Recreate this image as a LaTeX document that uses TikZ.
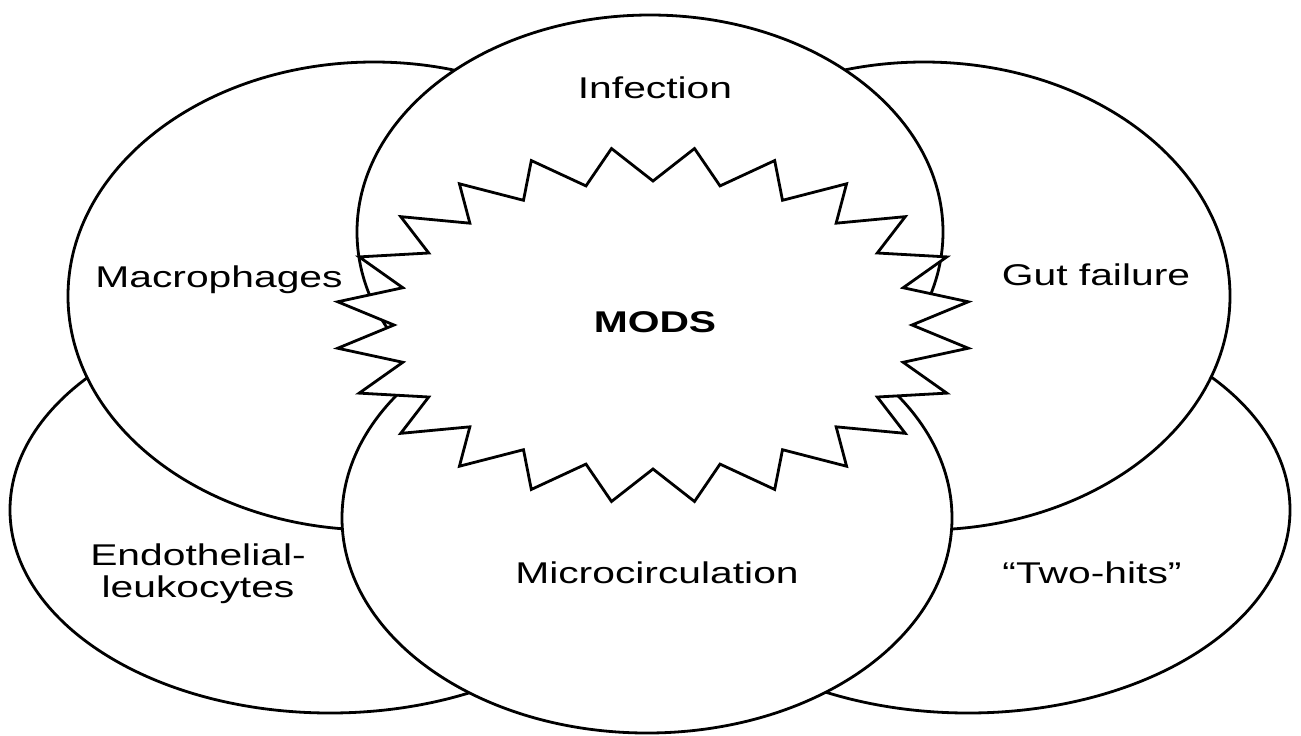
\documentclass[tikz,border=0pt]{standalone}
\usepackage{fontspec}
\setmainfont{Liberation Sans}[FakeStretch=1.36]

\begin{document}
\begin{tikzpicture}
      [x=0.5pt,y=-0.5pt,
       every node/.style={font=\fontsize{15}{16}\selectfont,align=center,anchor=base},
       blob/.style={draw,fill=white,line width=1.4pt}]
      \useasboundingbox (0,0) rectangle (1301,735);

      % outer ring, back to front
      \draw[blob] (330,510) ellipse [x radius=320, y radius=203];
      \draw[blob] (968,510) ellipse [x radius=322, y radius=203];
      \draw[blob] (374,296) ellipse [x radius=306, y radius=234];
      \draw[blob] (924,296) ellipse [x radius=306, y radius=234];
      \draw[blob] (650,232) ellipse [x radius=293, y radius=217];
      \draw[blob] (647,518) ellipse [x radius=305, y radius=215];

      % the star in the middle
      \begin{scope}[shift={(653,325)}]
        \draw[blob] (0:259 and 144)
          \foreach \k in {0,...,23} {-- (\k*15+7.5:318 and 178) -- (\k*15+15:259 and 144)} -- cycle;
      \end{scope}

      \node (infection) at (655,98) {Infection};
      \node (macro) at (219,287) {Macrophages};
      \node (gut) at (1096,285) {Gut failure};
      \node (mods) at (655,332) {\bfseries MODS};
      \node (micro) at (657,583) {Microcirculation};
      \node (endo) at (198,597) {Endothelial-\\leukocytes};
      \node (twohits) at (1092,583) {“Two-hits”};
    \end{tikzpicture}
\end{document}
